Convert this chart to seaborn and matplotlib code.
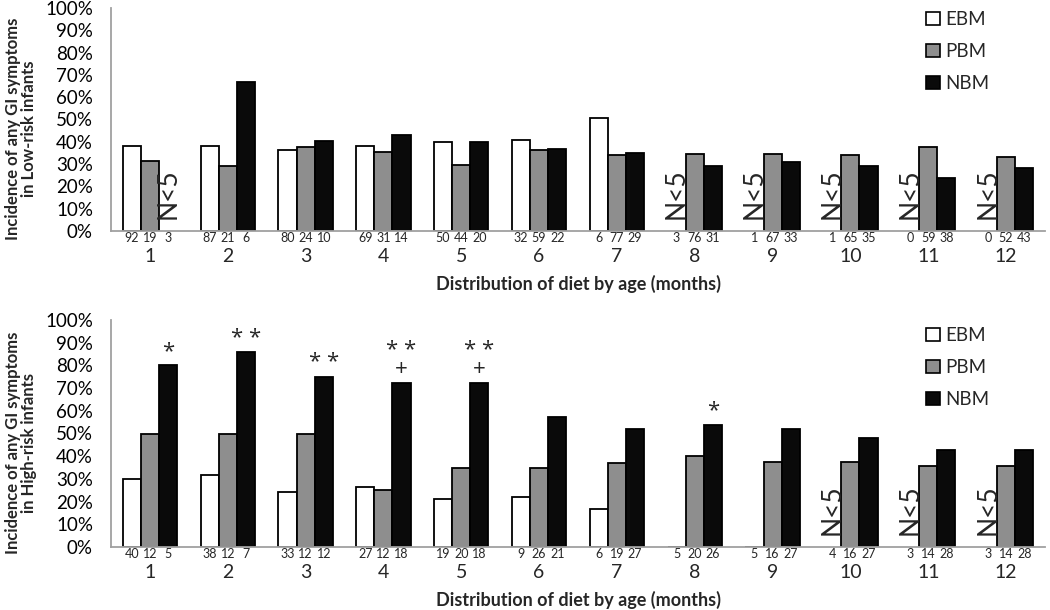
import numpy as np
import pandas as pd
import matplotlib
matplotlib.use("Agg")
import matplotlib.pyplot as plt
from matplotlib.patches import Patch
from matplotlib.ticker import PercentFormatter, FixedLocator
import seaborn as sns

months = [str(m) for m in range(1, 13)]
diets = ["EBM", "PBM", "NBM"]

# Low-risk infants (fractions); None = N<5 (not shown)
low_ebm = [0.38, 0.38, 0.365, 0.38, 0.40, 0.41, 0.505, None, None, None, None, None]
low_pbm = [0.316, 0.292, 0.375, 0.355, 0.297, 0.362, 0.34, 0.345, 0.345, 0.34, 0.378, 0.33]
low_nbm = [None, 0.67, 0.405, 0.43, 0.40, 0.366, 0.352, 0.293, 0.308, 0.293, 0.238, 0.282]
low_n_ebm = [92, 87, 80, 69, 50, 32, 6, 3, 1, 1, 0, 0]
low_n_pbm = [19, 21, 24, 31, 44, 59, 77, 76, 67, 65, 59, 52]
low_n_nbm = [3, 6, 10, 14, 20, 22, 29, 31, 33, 35, 38, 43]

# High-risk infants
high_ebm = [0.30, 0.316, 0.242, 0.263, 0.21, 0.222, 0.167, 0.0, 0.0, None, None, None]
high_pbm = [0.50, 0.50, 0.50, 0.25, 0.35, 0.346, 0.368, 0.40, 0.375, 0.375, 0.357, 0.357]
high_nbm = [0.80, 0.857, 0.75, 0.722, 0.722, 0.571, 0.519, 0.538, 0.519, 0.481, 0.429, 0.429]
high_n_ebm = [40, 38, 33, 27, 19, 9, 6, 5, 5, 4, 3, 3]
high_n_pbm = [12, 12, 12, 12, 20, 26, 19, 20, 16, 16, 14, 14]
high_n_nbm = [5, 7, 12, 18, 18, 21, 27, 26, 27, 27, 28, 28]
high_marks = ["*", "* *", "* *", "* *\n+", "* *\n+", "", "", "*", "", "", "", ""]

colors = {"EBM": "#ffffff", "PBM": "#8e8e8e", "NBM": "#0a0a0a"}
FONT = ["Lato", "DejaVu Sans"]

sns.set_theme(style="white")
plt.rcParams["font.family"] = FONT

fig = plt.figure(figsize=(10.5, 6.1), dpi=100)
W, H = 1050, 610
ax_top = fig.add_axes([111 / W, 1 - 231 / H, 934 / W, 223 / H])
ax_bot = fig.add_axes([111 / W, 1 - 547 / H, 934 / W, 227 / H])

WIDTH = 0.7
offsets = {d: (k - 1) * WIDTH / 3 for k, d in enumerate(diets)}


def build(e, p, n):
    rows = []
    for d, vals in zip(diets, [e, p, n]):
        for m, v in zip(months, vals):
            rows.append({"month": m, "diet": d, "value": np.nan if v is None else v})
    return pd.DataFrame(rows)


def draw(ax, e, p, n, ne, np_, nn, ylabel, marks=None, leg_y=1.05):
    df = build(e, p, n)
    sns.barplot(data=df, x="month", y="value", hue="diet", order=months,
                hue_order=diets, palette=colors, edgecolor="black",
                linewidth=1.3, width=WIDTH, errorbar=None, ax=ax, legend=False)
    ax.set_ylim(0, 1.0)
    ax.set_xlim(-0.5, len(months) - 0.5)
    ax.yaxis.set_major_locator(FixedLocator(np.arange(0, 1.01, 0.1)))
    ax.yaxis.set_major_formatter(PercentFormatter(1.0, decimals=0))
    ax.tick_params(axis="y", length=0, pad=13, labelsize=13.5, colors="black")
    ax.set_xticks(range(len(months)))
    ax.set_xticklabels(months)
    ax.tick_params(axis="x", which="major", length=0, pad=12, labelsize=14)
    ax.xaxis.set_minor_locator(FixedLocator(np.arange(-0.5, len(months) + 0.5, 1)))
    ax.tick_params(axis="x", which="minor", length=5, width=1, color="#a0a0a0",
                   direction="out")
    for s in ["top", "right"]:
        ax.spines[s].set_visible(False)
    for s in ["left", "bottom"]:
        ax.spines[s].set_color("#a0a0a0")
        ax.spines[s].set_linewidth(1.3)
    ax.set_xlabel("Distribution of diet by age (months)", fontsize=13,
                  fontweight="bold")
    ax.xaxis.set_label_coords(0.5, -0.195)
    ax.set_ylabel(ylabel, fontsize=12, fontweight="bold", linespacing=1.0)
    ax.yaxis.set_label_coords(-0.079, 0.46)
    ax.grid(False)
    tr = ax.get_xaxis_transform()
    for i in range(len(months)):
        for d, cnt in zip(diets, [ne[i], np_[i], nn[i]]):
            ax.text(i + offsets[d], -0.032, str(cnt), transform=tr,
                    ha="center", va="center", fontsize=9)
    # N<5 labels
    for d, vals in zip(diets, [e, p, n]):
        for i, v in enumerate(vals):
            if v is None:
                ax.text(i + offsets[d], 0.055, "N<5", rotation=90, ha="center",
                        va="bottom", fontsize=19)
    if marks:
        for i, mk in enumerate(marks):
            if mk:
                ax.text(i + offsets["NBM"], n[i] + 0.015, mk, ha="center",
                        va="bottom", fontsize=16, linespacing=0.85,
                        family=["Open Sans", "DejaVu Sans"])
    handles = [Patch(facecolor=colors[d], edgecolor="black", linewidth=1.2,
                     label=d) for d in diets]
    ax.legend(handles=handles, loc="upper left", bbox_to_anchor=(0.855, leg_y),
              frameon=False, fontsize=13.5, handlelength=0.7,
              handleheight=0.7, handletextpad=0.3, labelspacing=0.8)


draw(ax_top, low_ebm, low_pbm, low_nbm, low_n_ebm, low_n_pbm, low_n_nbm,
     "Incidence of any GI symptoms\nin Low-risk infants", leg_y=1.06)
draw(ax_bot, high_ebm, high_pbm, high_nbm, high_n_ebm, high_n_pbm, high_n_nbm,
     "Incidence of any GI symptoms\nin High-risk infants", marks=high_marks,
     leg_y=1.045)

fig.savefig("out.png", dpi=100, facecolor="white")
